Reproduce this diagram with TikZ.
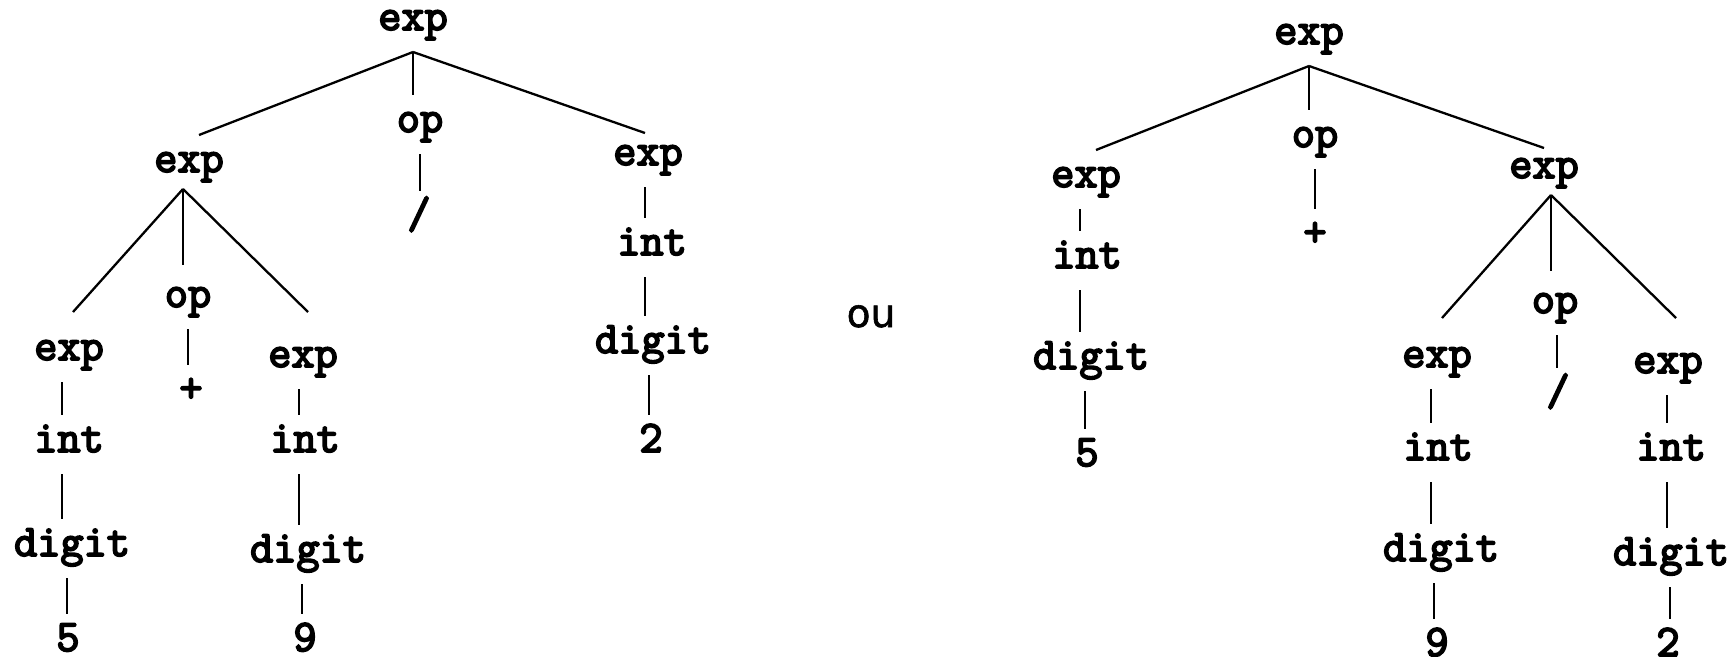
\documentclass[tikz,border=0pt]{standalone}
\usepackage{fontspec}
\newfontfamily\oufont{DejaVu Sans}[FakeBold=1.5]
\newfontfamily\treefont{Latin Modern Mono}[FakeBold=4]
% vertical bar from an upper label down to the label below it
\newcommand\vbar[3][-6pt]{\draw[bar] ([xshift=#1]#2.south) -- ([xshift=#1]#2.south |- #3.north);}
\begin{document}
\begin{tikzpicture}[x=1pt,y=-1pt,
  lbl/.style={anchor=base, inner sep=0pt, outer sep=0pt,
    text height=37pt, text depth=22pt,
    font=\treefont\bfseries\fontsize{45}{45}\selectfont},
  edge/.style={line width=2.3pt},
  bar/.style={line width=2.9pt},
]
\useasboundingbox (0,0) rectangle (1735,656);

% ---------- first tree: (5 + 9) / 2 ----------
\node[lbl] (a)   at (413,30)  {exp};
\node[lbl] (a1)  at (189,172) {exp};
\node[lbl] (a2)  at (420,132) {op};
\node[lbl] (a2s) at (419,228) {/};
\node[lbl] (a3)  at (648,165) {exp};
\node[lbl] (a3i) at (652,255) {int};
\node[lbl] (a3d) at (653,353) {digit};
\node[lbl] (a3n) at (651,452) {2};
\node[lbl] (b1)  at (69,360)  {exp};
\node[lbl] (b1i) at (69,452)  {int};
\node[lbl] (b1d) at (72,556)  {digit};
\node[lbl] (b1n) at (68,651)  {5};
\node[lbl] (b2)  at (188,307) {op};
\node[lbl] (b2s) at (191,402) {+};
\node[lbl] (b3)  at (303,367) {exp};
\node[lbl] (b3i) at (305,452) {int};
\node[lbl] (b3d) at (308,562) {digit};
\node[lbl] (b3n) at (305,651) {9};

\draw[edge] (a.south) -- ([xshift=10pt]a1.north);
\draw[edge] (a.south) -- (a.south |- a2.north);
\draw[edge] (a.south) -- ([shift={(-3pt,-5pt)}]a3.north);
\draw[edge] ([shift={(-6pt,5pt)}]a1.south) -- ([shift={(4pt,11pt)}]b1.north);
\draw[edge] ([shift={(-6pt,5pt)}]a1.south) -- ([shift={(-6pt,5pt)}]a1.south |- b2.north);
\draw[edge] ([shift={(-6pt,5pt)}]a1.south) -- ([shift={(5pt,18pt)}]b3.north);

\vbar[0pt]{a2}{a2s}
\vbar[-3pt]{a3}{a3i}
\vbar[-7pt]{a3i}{a3d}
\vbar[-4pt]{a3d}{a3n}
\vbar[-7pt]{b1}{b1i}
\vbar[-7pt]{b1i}{b1d}
\vbar[-5pt]{b1d}{b1n}
\vbar[0pt]{b2}{b2s}
\vbar[-4pt]{b3}{b3i}
\vbar[-6pt]{b3i}{b3d}
\vbar[-6pt]{b3d}{b3n}

% ---------- separator ----------
\node[anchor=base, inner sep=0pt, font=\oufont\fontsize{39}{39}\selectfont] (ou) at (871,327) {ou};

% ---------- second tree: 5 + (9 / 2) ----------
\node[lbl] (r)   at (1309,44)  {exp};
\node[lbl] (r1)  at (1086,187) {exp};
\node[lbl] (r1i) at (1087,268) {int};
\node[lbl] (r1d) at (1091,369) {digit};
\node[lbl] (r1n) at (1087,466) {5};
\node[lbl] (r2)  at (1315,147) {op};
\node[lbl] (r2s) at (1315,246) {+};
\node[lbl] (r3)  at (1544,178) {exp};
\node[lbl] (s1)  at (1437,367) {exp};
\node[lbl] (s1i) at (1438,460) {int};
\node[lbl] (s1d) at (1441,561) {digit};
\node[lbl] (s1n) at (1437,656) {9};
\node[lbl] (s2)  at (1555,313) {op};
\node[lbl] (s2s) at (1558,405) {/};
\node[lbl] (s3)  at (1668,373) {exp};
\node[lbl] (s3i) at (1671,460) {int};
\node[lbl] (s3d) at (1671,565) {digit};
\node[lbl] (s3n) at (1668,656) {2};

\draw[edge] (r.south) -- ([xshift=10pt]r1.north);
\draw[edge] (r.south) -- (r.south |- r2.north);
\draw[edge] (r.south) -- ([yshift=-7pt]r3.north);
\draw[edge] ([shift={(7pt,5pt)}]r3.south) -- ([shift={(5pt,12pt)}]s1.north);
\draw[edge] ([shift={(7pt,5pt)}]r3.south) -- ([shift={(7pt,5pt)}]r3.south |- s2.north);
\draw[edge] ([shift={(7pt,5pt)}]r3.south) -- ([shift={(8pt,18pt)}]s3.north);

\vbar[-6pt]{r1}{r1i}
\vbar[-7pt]{r1i}{r1d}
\vbar[-6pt]{r1d}{r1n}
\vbar[0pt]{r2}{r2s}
\vbar[2pt]{s2}{s2s}
\vbar[-6pt]{s1}{s1i}
\vbar[-7pt]{s1i}{s1d}
\vbar[-7pt]{s1d}{s1n}
\vbar[-1pt]{s3}{s3i}
\vbar[-4pt]{s3i}{s3d}
\vbar[-1pt]{s3d}{s3n}
\end{tikzpicture}
\end{document}
